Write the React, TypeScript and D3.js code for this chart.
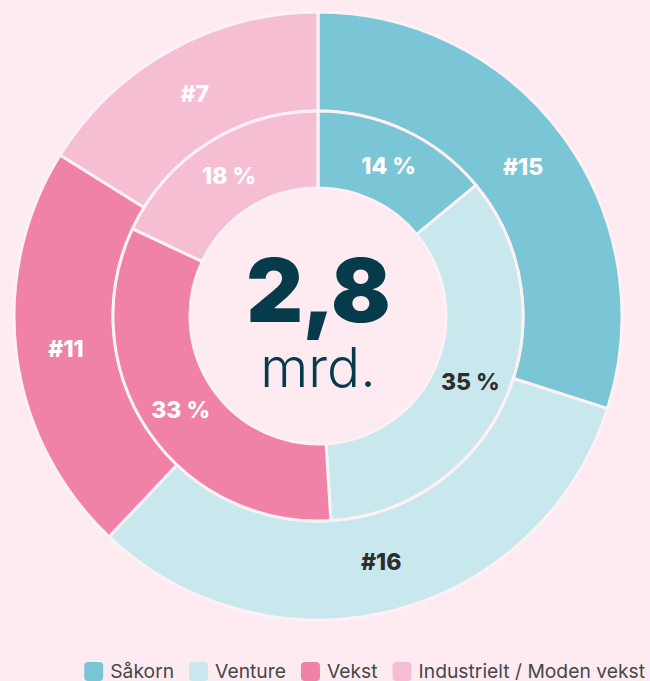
import React, { useEffect, useRef } from "react";
import * as d3 from "d3";

const categories = ["Såkorn", "Venture", "Vekst", "Industrielt / Moden vekst"];
const outerValues = [29.9, 32.1, 21.8, 16.1];
const outerLabels = ["#15", "#16", "#11", "#7"];
const innerValues = [14, 35, 33, 18];
const innerLabels = ["14 %", "35 %", "33 %", "18 %"];
const colors = ["#7ac6d6", "#c8e8ee", "#ef82a6", "#f6bed2"];
const labelColors = ["#ffffff", "#2e2e2e", "#ffffff", "#ffffff"];
const centerValue = "2,8";
const centerUnit = "mrd.";

const W = 650;
const H = 681;
const BG = "#fdebf1";
const SEP = "#fdf1f5";
const FONT = "Inter, 'Noto Sans', sans-serif";

export default function App() {
  const ref = useRef<SVGSVGElement | null>(null);

  useEffect(() => {
    const svg = d3.select(ref.current);
    svg.selectAll("*").remove();

    svg.append("rect").attr("width", W).attr("height", H).attr("fill", BG);

    const cx = 318;
    const cy = 316;
    const rCenter = 128;
    const rMid = 205;
    const rOuter = 304;

    const g = svg.append("g").attr("transform", `translate(${cx},${cy})`);
    const pie = d3.pie<number>().sort(null).value((d) => d);

    const outerArcs = pie(outerValues);
    const innerArcs = pie(innerValues);

    const outerArc = d3.arc<d3.PieArcDatum<number>>().innerRadius(rMid).outerRadius(rOuter);
    const innerArc = d3.arc<d3.PieArcDatum<number>>().innerRadius(rCenter).outerRadius(rMid);
    const outerLabelArc = d3.arc<d3.PieArcDatum<number>>().innerRadius(254).outerRadius(254);
    const innerLabelArc = d3.arc<d3.PieArcDatum<number>>().innerRadius(166).outerRadius(166);

    g.selectAll("path.outer")
      .data(outerArcs)
      .join("path")
      .attr("class", "outer")
      .attr("d", outerArc)
      .attr("fill", (_, i) => colors[i])
      .attr("stroke", SEP)
      .attr("stroke-width", 3);

    g.selectAll("path.inner")
      .data(innerArcs)
      .join("path")
      .attr("class", "inner")
      .attr("d", innerArc)
      .attr("fill", (_, i) => colors[i])
      .attr("stroke", SEP)
      .attr("stroke-width", 3);

    g.append("circle").attr("r", rCenter - 1.5).attr("fill", BG);

    g.selectAll("text.olab")
      .data(outerArcs)
      .join("text")
      .attr("class", "olab")
      .attr("transform", (d) => `translate(${outerLabelArc.centroid(d)})`)
      .attr("text-anchor", "middle")
      .attr("dy", "0.36em")
      .attr("font-family", FONT)
      .attr("font-weight", 800)
      .attr("font-size", 23)
      .attr("fill", (_, i) => labelColors[i])
      .text((_, i) => outerLabels[i]);

    g.selectAll("text.ilab")
      .data(innerArcs)
      .join("text")
      .attr("class", "ilab")
      .attr("transform", (d) => `translate(${innerLabelArc.centroid(d)})`)
      .attr("text-anchor", "middle")
      .attr("dy", "0.36em")
      .attr("font-family", FONT)
      .attr("font-weight", 800)
      .attr("font-size", 23)
      .attr("fill", (_, i) => labelColors[i])
      .text((_, i) => innerLabels[i]);

    g.append("text")
      .attr("text-anchor", "middle")
      .attr("y", 6)
      .attr("font-family", FONT)
      .attr("font-weight", 900)
      .attr("font-size", 88)
      .attr("letter-spacing", -1)
      .attr("fill", "#063b4b")
      .text(centerValue);

    g.append("text")
      .attr("text-anchor", "middle")
      .attr("y", 71)
      .attr("font-family", FONT)
      .attr("font-weight", 300)
      .attr("font-size", 55)
      .attr("fill", "#063b4b")
      .text(centerUnit);

    // legend, right aligned
    const legend = svg.append("g");
    const sq = 19;
    const gapIn = 7;
    const gapOut = 15;
    const items = categories.map((c, i) => {
      const it = legend.append("g");
      it.append("rect")
        .attr("width", sq)
        .attr("height", sq)
        .attr("rx", 4)
        .attr("fill", colors[i]);
      const t = it.append("text")
        .attr("x", sq + gapIn)
        .attr("y", 16)
        .attr("font-family", FONT)
        .attr("font-size", 19.3)
        .attr("fill", "#474747")
        .text(c);
      const w = (t.node() as SVGTextElement).getComputedTextLength();
      return { it, w: sq + gapIn + w };
    });
    let x = 645;
    for (let i = items.length - 1; i >= 0; i--) {
      x -= items[i].w;
      items[i].it.attr("transform", `translate(${x},662)`);
      x -= gapOut;
    }
  }, []);

  return (
    <svg
      ref={ref}
      width={W}
      height={H}
      style={{ display: "block", position: "absolute", left: 0, top: 0 }}
    />
  );
}
